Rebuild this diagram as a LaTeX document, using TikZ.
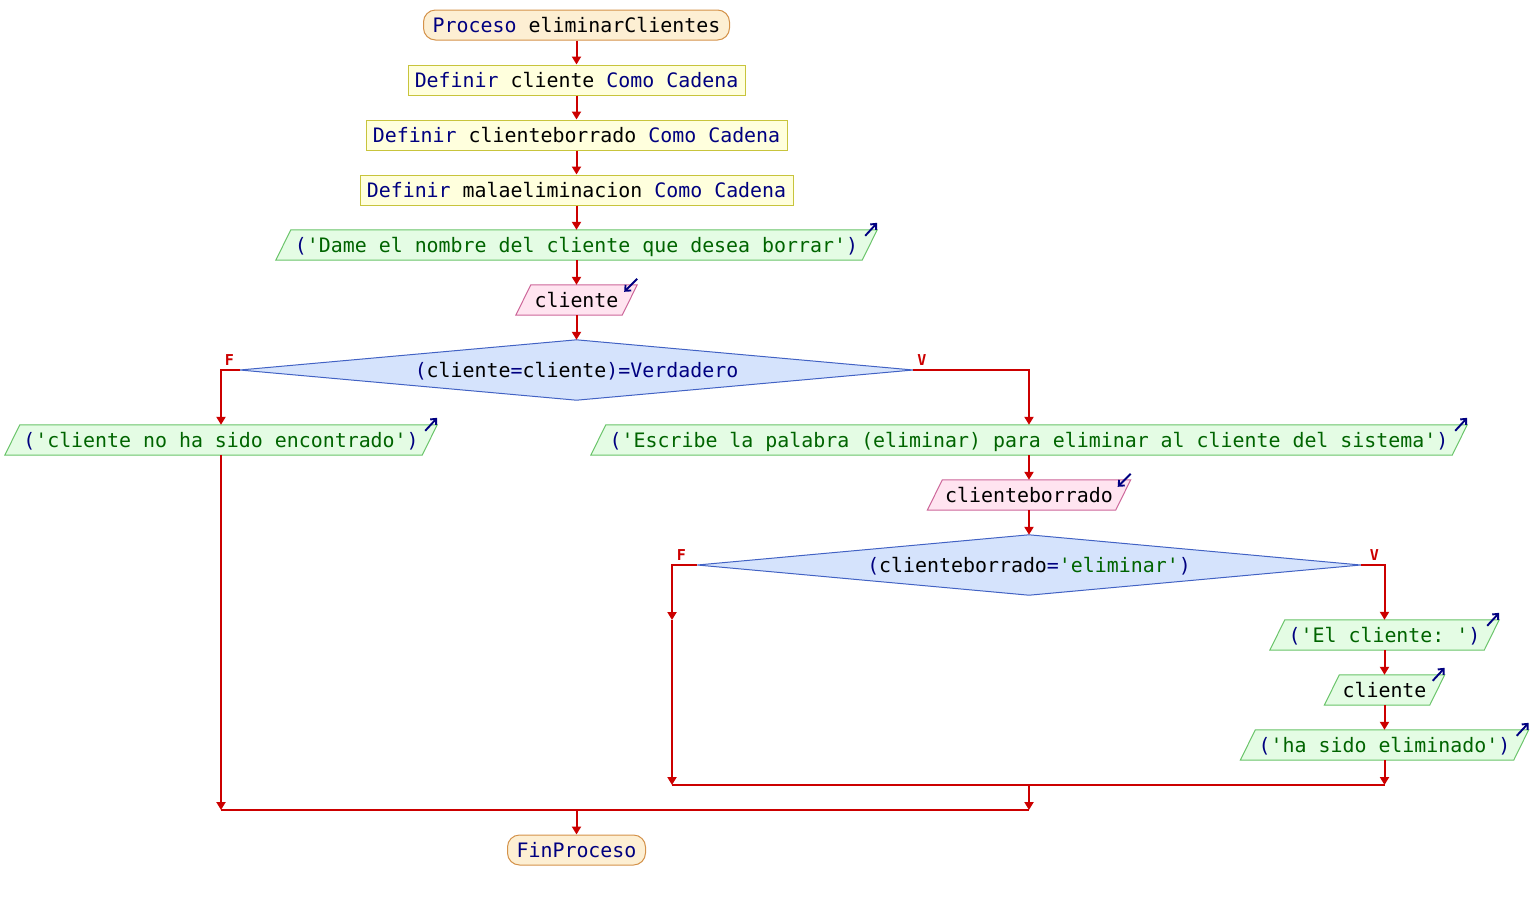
\documentclass[tikz,border=0pt]{standalone}
\usepackage{fontspec}
\setmonofont{DejaVu Sans Mono}
\usetikzlibrary{arrows.meta}
\pgfdeclarelayer{background}
\pgfsetlayers{background,main}
\definecolor{kwc}{HTML}{000080}
\definecolor{strc}{HTML}{006400}
\definecolor{connc}{HTML}{CC0000}
\definecolor{procF}{HTML}{FDEFD3}
\definecolor{procB}{HTML}{D4924A}
\definecolor{defF}{HTML}{FFFFDD}
\definecolor{defB}{HTML}{C8C43C}
\definecolor{outF}{HTML}{E4FCE4}
\definecolor{outB}{HTML}{6AC46A}
\definecolor{inF}{HTML}{FFE4F0}
\definecolor{inB}{HTML}{CC6699}
\definecolor{decF}{HTML}{D5E3FC}
\definecolor{decB}{HTML}{4262C4}
\newcommand\kw[1]{\textcolor{kwc}{#1}}
\newcommand\strg[1]{\textcolor{strc}{#1}}
\newcommand\pgram[3]{%
  \begin{pgfonlayer}{background}
  \filldraw[fill=#2, draw=#3, line width=1pt] ([xshift=-7.5pt]#1.south west) -- ([xshift=7.5pt]#1.north west) -- ([xshift=7.5pt]#1.north east) -- ([xshift=-7.5pt]#1.south east) -- cycle;
  \end{pgfonlayer}}
\newcommand\dmd[1]{%
  \begin{pgfonlayer}{background}
  \filldraw[fill=decF, draw=decB, line width=1pt] (#1.west) -- (#1.north) -- (#1.east) -- (#1.south) -- cycle;
  \end{pgfonlayer}}
\newcommand\outicon[1]{\draw[icon] ([xshift=-4.5pt,yshift=-6pt]#1.north east) -- ([xshift=7.5pt,yshift=7pt]#1.north east);}
\newcommand\inicon[1]{\draw[icon] ([xshift=7.5pt,yshift=6pt]#1.north east) -- ([xshift=-5.5pt,yshift=-7pt]#1.north east);}
\tikzset{
  base/.style={inner sep=0pt, minimum height=30pt, text height=16pt, text depth=1.4pt,
    font=\ttfamily\fontsize{19.9pt}{24pt}\selectfont, align=center},
  procbox/.style={base, draw=procB, fill=procF, rounded corners=12pt, line width=1pt},
  defbox/.style={base, draw=defB, fill=defF, line width=1pt},
  iobox/.style={base},
  decbox/.style={base, minimum height=60pt},
  conn/.style={draw=connc, line width=2pt, -{Triangle[length=8pt,width=9pt]}},
  connplain/.style={draw=connc, line width=2pt},
  icon/.style={draw=kwc, line width=1.9pt, -{Straight Barb[length=4.5pt,width=8pt]}},
  lbl/.style={text=connc, inner sep=0pt, font=\ttfamily\bfseries\fontsize{15pt}{15pt}\selectfont},
}
\begin{document}
\begin{tikzpicture}[x=1pt,y=-1pt]
\useasboundingbox (0,0) rectangle (1532,900);
% main column
\node[procbox, minimum width=306pt] (proc) at (576.5,25) {\kw{Proceso} eliminarClientes};
\node[defbox, minimum width=337pt] (def1) at (576.5,80) {\kw{Definir} cliente \kw{Como} \kw{Cadena}};
\node[defbox, minimum width=421pt] (def2) at (576.5,135) {\kw{Definir} clienteborrado \kw{Como} \kw{Cadena}};
\node[defbox, minimum width=433pt] (def3) at (576.5,190) {\kw{Definir} malaeliminacion \kw{Como} \kw{Cadena}};
\node[iobox, minimum width=586pt] (out1) at (576.5,245) {\kw{(}\strg{'Dame el nombre del cliente que desea borrar'}\kw{)}};
\pgram{out1}{outF}{outB}\outicon{out1}
\node[iobox, minimum width=106pt] (in1) at (576.5,300) {cliente};
\pgram{in1}{inF}{inB}\inicon{in1}
\node[decbox, minimum width=673pt] (d1) at (576.5,370) {\kw{(}cliente\kw{=}cliente\kw{)=Verdadero}};
\dmd{d1}
% left branch
\node[iobox, minimum width=417pt] (out2) at (221,440) {\kw{(}\strg{'cliente no ha sido encontrado'}\kw{)}};
\pgram{out2}{outF}{outB}\outicon{out2}
% right branch
\node[iobox, minimum width=861pt] (out3) at (1029,440) {\kw{(}\strg{'Escribe la palabra (eliminar) para eliminar al cliente del sistema'}\kw{)}};
\pgram{out3}{outF}{outB}\outicon{out3}
\node[iobox, minimum width=188pt] (in2) at (1029,495) {clienteborrado};
\pgram{in2}{inF}{inB}\inicon{in2}
\node[decbox, minimum width=663pt] (d2) at (1029,565) {\kw{(}clienteborrado\kw{=}\strg{'eliminar'}\kw{)}};
\dmd{d2}
\node[iobox, minimum width=214pt] (out4) at (1384.5,635) {\kw{(}\strg{'El cliente: '}\kw{)}};
\pgram{out4}{outF}{outB}\outicon{out4}
\node[iobox, minimum width=105pt] (out5) at (1384.5,690) {cliente};
\pgram{out5}{outF}{outB}\outicon{out5}
\node[iobox, minimum width=273pt] (out6) at (1384.5,745) {\kw{(}\strg{'ha sido eliminado'}\kw{)}};
\pgram{out6}{outF}{outB}\outicon{out6}
\node[procbox, minimum width=138pt] (fin) at (576.5,850) {\kw{FinProceso}};
% labels
\node[lbl] (f1) at (229.5,360) {F};
\node[lbl] (v1) at (922,360) {V};
\node[lbl] (f2) at (681.5,555) {F};
\node[lbl] (v2) at (1374.5,555) {V};
% join points
\coordinate (fb) at (672,620);
\coordinate (j2) at (672,785);
\coordinate (j2r) at (1384.5,785);
\coordinate (j2m) at (1029,785);
\coordinate (j1m) at (1029,810);
\coordinate (j1) at (221,810);
\coordinate (j1c) at (576.5,810);
% connectors
\draw[conn] (proc.south) -- (def1.north);
\draw[conn] (def1.south) -- (def2.north);
\draw[conn] (def2.south) -- (def3.north);
\draw[conn] (def3.south) -- (out1.north);
\draw[conn] (out1.south) -- (in1.north);
\draw[conn] (in1.south) -- (d1.north);
\draw[conn] (d1.west) -| (out2.north);
\draw[conn] (d1.east) -| (out3.north);
\draw[conn] (out3.south) -- (in2.north);
\draw[conn] (in2.south) -- (d2.north);
\draw[conn] (d2.east) -| (out4.north);
\draw[conn] (out4.south) -- (out5.north);
\draw[conn] (out5.south) -- (out6.north);
\draw[conn] (d2.west) -| (fb);
\draw[conn] (fb) -- (j2);
\draw[conn] (out6.south) -- (j2r);
\draw[connplain] (j2) -- (j2r);
\draw[conn] (j2m) -- (j1m);
\draw[conn] (out2.south) -- (j1);
\draw[connplain] (j1) -- (j1m);
\draw[conn] (j1c) -- (fin.north);
\end{tikzpicture}
\end{document}
